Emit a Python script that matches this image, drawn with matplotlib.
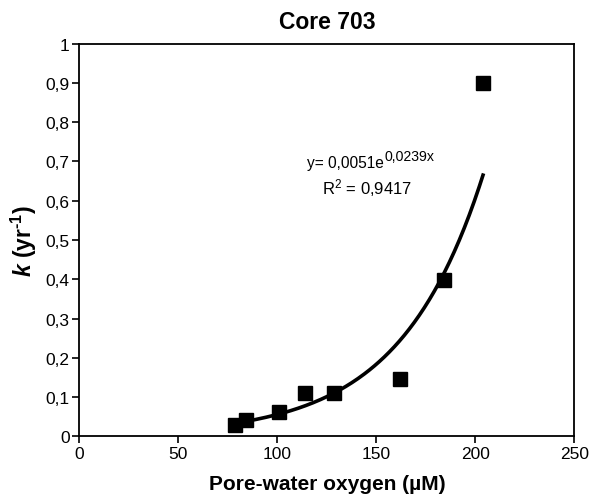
import numpy as np
import matplotlib.pyplot as plt

plt.rcParams['font.family'] = ['Liberation Sans', 'DejaVu Sans']
plt.rcParams['mathtext.fontset'] = 'custom'
plt.rcParams['mathtext.rm'] = 'Liberation Sans'
plt.rcParams['mathtext.it'] = 'Liberation Sans:italic'
plt.rcParams['mathtext.bf'] = 'Liberation Sans:bold'
plt.rcParams['mathtext.bfit'] = 'Liberation Sans:bold:italic'

# measured points
oxygen = [78.3, 84.1, 100.8, 114.1, 128.5, 161.9, 184.3, 203.8]
k_rate = [0.030, 0.041, 0.061, 0.111, 0.111, 0.146, 0.398, 0.901]

# exponential trendline  y = a * exp(b x)
fit_a = 0.0051
fit_b = 0.0239
fit_range = (78.3, 203.8)

x_ticks = [0, 50, 100, 150, 200, 250]
y_ticks = [0, 0.1, 0.2, 0.3, 0.4, 0.5, 0.6, 0.7, 0.8, 0.9, 1]
y_ticklabels = ['0', '0,1', '0,2', '0,3', '0,4', '0,5', '0,6', '0,7', '0,8', '0,9', '1']

fig = plt.figure(figsize=(6.03, 5.02), dpi=100)
ax = fig.add_axes([0.1318, 0.1289, 0.8209, 0.7821])

x_fit = np.linspace(fit_range[0], fit_range[1], 200)
ax.plot(x_fit, fit_a * np.exp(fit_b * x_fit), color='black', lw=2.6, zorder=2)
ax.plot(oxygen, k_rate, ls='none', marker='s', ms=10.5, color='black', zorder=3)

ax.set_xlim(0, 250)
ax.set_ylim(0, 1)
ax.set_xticks(x_ticks)
ax.set_xticklabels([str(t) for t in x_ticks])
ax.set_yticks(y_ticks)
ax.set_yticklabels(y_ticklabels)
ax.tick_params(labelsize=12.5, length=5, width=1.2, direction='out', pad=2)
for sp in ax.spines.values():
    sp.set_linewidth(1.3)

ax.set_title('Core 703', fontsize=16.5, fontweight='bold', pad=11)
ax.set_xlabel('Pore-water oxygen (\u00b5M)', fontsize=15, fontweight='bold', labelpad=9)
ax.set_ylabel(r'$\mathbfit{k}$ (yr$^{\mathbf{' + '\u2010' + r'1}}$)',
              fontsize=16.5, fontweight='bold', labelpad=5)

# trendline equation
eq = ax.text(0.46, 0.697, 'y= 0,0051e', transform=ax.transAxes,
             ha='left', va='center', fontsize=11.2)
ax.annotate('0,0239x', xy=(1, 0.5), xycoords=eq, xytext=(0.3, 5),
            textcoords='offset points', ha='left', va='center', fontsize=10.2)
ax.text(0.58, 0.635, r'R$^{\mathrm{2}}$ = 0,9417', transform=ax.transAxes,
        ha='center', va='center', fontsize=12)

fig.savefig('out.png', dpi=100)
